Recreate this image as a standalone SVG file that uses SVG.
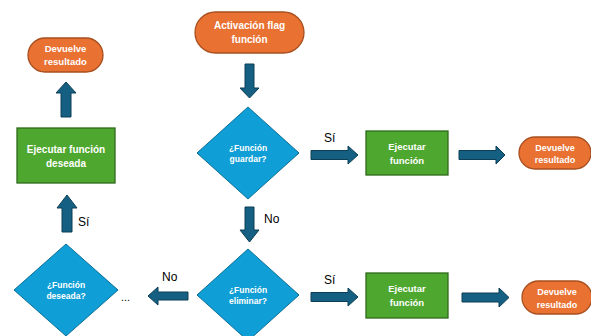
<svg xmlns="http://www.w3.org/2000/svg" width="591" height="336" viewBox="0 0 591 336">
<style>
.term{fill:#E97132;stroke:#A84F1F;stroke-width:1.3}
.proc{fill:#4EA72E;stroke:#2F6B1B;stroke-width:1.3}
.dec{fill:#0F9ED5;stroke:#0B6F97;stroke-width:1}
.arr{fill:#156082;stroke:#0C3E55;stroke-width:1}
.t{font-family:"Liberation Sans",Arial,sans-serif;font-weight:bold;fill:#fff;text-anchor:middle}
.lbl{font-family:"Liberation Sans",Arial,sans-serif;font-size:12px;fill:#000}
</style>
<rect width="591" height="336" fill="#fff"/>
<g id="connectors">
<polygon class="arr" points="245,64 254,64 254,88 259,88 249.5,98 240,88 245,88"/>
<polygon class="arr" points="311,150.5 348,150.5 348,146 358,155 348,164 348,159.5 311,159.5"/>
<polygon class="arr" points="459,150.5 496,150.5 496,146 505,155 496,164 496,159.5 459,159.5"/>
<polygon class="arr" points="245,207 254,207 254,230 259,230 249.5,242 240,230 245,230"/>
<polygon class="arr" points="311,292.5 348,292.5 348,288 358,297 348,306 348,301.5 311,301.5"/>
<polygon class="arr" points="462,293 499,293 499,288 509,297.5 499,307 499,302 462,302"/>
<polygon class="arr" points="188,292 158,292 158,287 148,296 158,305 158,300 188,300"/>
<polygon class="arr" points="62,232 72,232 72,208 77,208 67,195 57,208 62,208"/>
<polygon class="arr" points="61,117 71,117 71,93 76,93 66,82 56,93 61,93"/>
<text class="lbl" x="324" y="142">Sí</text>
<text class="lbl" x="324" y="284">Sí</text>
<text class="lbl" x="264" y="223">No</text>
<text class="lbl" x="162" y="281">No</text>
<text class="lbl" x="78" y="226">Sí</text>
<text class="lbl" x="121" y="301" style="font-size:11px">...</text>
</g>
<g id="start">
<rect class="term" x="195" y="12" width="109" height="41" rx="20.5"/>
<text class="t" font-size="10" x="249.5" y="29">Activación flag</text>
<text class="t" font-size="10" x="249.5" y="43">función</text>
</g>
<g id="dec-guardar">
<polygon class="dec" points="248,107 299,153 248,199 197,153"/>
<text class="t" font-size="8.5" x="248" y="151">¿Función</text>
<text class="t" font-size="8.5" x="248" y="162">guardar?</text>
</g>
<g id="proc-guardar">
<rect class="proc" x="366" y="131" width="82" height="44"/>
<text class="t" font-size="9.5" x="407" y="150">Ejecutar</text>
<text class="t" font-size="9.5" x="407" y="164">función</text>
</g>
<g id="end-guardar">
<rect class="term" x="519" y="137" width="72" height="32" rx="16"/>
<text class="t" font-size="9" x="555" y="151">Devuelve</text>
<text class="t" font-size="9" x="555" y="163">resultado</text>
</g>
<g id="dec-eliminar">
<polygon class="dec" points="248,249 299,295 248,341 197,295"/>
<text class="t" font-size="8.5" x="248" y="293">¿Función</text>
<text class="t" font-size="8.5" x="248" y="304">eliminar?</text>
</g>
<g id="proc-eliminar">
<rect class="proc" x="366" y="273" width="82" height="45"/>
<text class="t" font-size="9.5" x="407" y="292">Ejecutar</text>
<text class="t" font-size="9.5" x="407" y="306">función</text>
</g>
<g id="end-eliminar">
<rect class="term" x="522" y="281" width="70" height="33" rx="16.5"/>
<text class="t" font-size="9" x="557" y="295">Devuelve</text>
<text class="t" font-size="9" x="557" y="308">resultado</text>
</g>
<g id="dec-deseada">
<polygon class="dec" points="66,244 118,290 66,336 14,290"/>
<text class="t" font-size="8.5" x="66" y="288">¿Función</text>
<text class="t" font-size="8.5" x="66" y="299">deseada?</text>
</g>
<g id="proc-deseada">
<rect class="proc" x="17" y="128" width="98" height="55"/>
<text class="t" font-size="10" x="66" y="153">Ejecutar función</text>
<text class="t" font-size="10" x="66" y="167">deseada</text>
</g>
<g id="end-deseada">
<rect class="term" x="28" y="38" width="75" height="34" rx="17"/>
<text class="t" font-size="9.5" x="65.5" y="52">Devuelve</text>
<text class="t" font-size="9.5" x="65.5" y="65">resultado</text>
</g>
</svg>
